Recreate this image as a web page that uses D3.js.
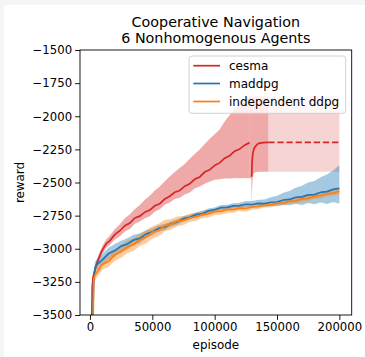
<!DOCTYPE html>
<html>
<head>
<meta charset="utf-8">
<script src="https://cdn.jsdelivr.net/npm/d3@7"></script>
<style>
  html, body { margin: 0; padding: 0; background: #f5f5f5; }
  svg { display: block; }
  text { font-family: "DejaVu Sans", sans-serif; fill: #000; }
</style>
</head>
<body>
<svg id="chart" width="365" height="357"></svg>
<script>
// ---------- DATA ----------
const titleLines = ["Cooperative Navigation", "6 Nonhomogenous Agents"];
const seriesNames = ["cesma", "maddpg", "independent ddpg"];
const xTicks = [0, 50000, 100000, 150000, 200000];
const yTicks = [-1500, -1750, -2000, -2250, -2500, -2750, -3000, -3250, -3500];

// cesma, first run
const cesmaX = [1000, 1500, 1800, 2500, 4000, 6000, 8000, 10000, 13000, 16000, 20000, 24000, 28000, 32000, 36000, 40000, 44000, 48000, 52000, 56000, 60000, 64000, 68000, 72000, 76000, 80000, 84000, 88000, 92000, 96000, 100000, 104000, 108000, 112000, 116000, 120000, 124000, 128000];
const cesmaMean = [-3900, -3500, -3290, -3215, -3158, -3098, -3048, -3008, -2962, -2938, -2892, -2864, -2826, -2806, -2768, -2754, -2724, -2708, -2676, -2660, -2624, -2604, -2574, -2560, -2528, -2510, -2476, -2458, -2421, -2404, -2371, -2352, -2316, -2298, -2264, -2248, -2218, -2199];
const cesmaUpper = [-3850, -3450, -3260, -3190, -3130, -3070, -3018, -2978, -2930, -2900, -2850, -2815, -2770, -2740, -2700, -2670, -2630, -2600, -2560, -2530, -2490, -2455, -2420, -2390, -2360, -2320, -2285, -2250, -2210, -2170, -2135, -2100, -2040, -1990, -1940, -1900, -1870, -1850];
const cesmaLower = [-3950, -3550, -3320, -3240, -3185, -3125, -3078, -3040, -2995, -2970, -2930, -2905, -2870, -2850, -2812, -2795, -2770, -2755, -2720, -2702, -2668, -2650, -2625, -2615, -2590, -2575, -2545, -2530, -2510, -2495, -2480, -2475, -2470, -2470, -2466, -2468, -2466, -2468];

// cesma, restarted run
const cesma2X = [129700, 130000, 130500, 131000, 132000, 134000, 136000, 139000, 143000];
const cesma2Mean = [-2456, -2350, -2290, -2262, -2235, -2212, -2203, -2199, -2197];
const cesma2BandX = [128000, 129400, 129700, 130000, 130500, 131000, 132000, 134000, 136000, 139000, 143000];
const cesma2Upper = [-1850, -1850, -1850, -1850, -1850, -1850, -1850, -1850, -1850, -1850, -1850];
const cesma2Lower = [-2468, -2468, -2670, -2560, -2470, -2440, -2425, -2420, -2418, -2418, -2418];

// cesma, extended (dashed)
const cesma3X = [143000, 200000];
const cesma3Mean = [-2197, -2197];
const cesma3Upper = [-1850, -1850];
const cesma3Lower = [-2418, -2418];

// maddpg & independent ddpg
const episodes = [2000, 2500, 3000, 4000, 5000, 10000, 15000, 20000, 25000, 30000, 35000, 40000, 45000, 50000, 55000, 60000, 65000, 70000, 75000, 80000, 85000, 90000, 95000, 100000, 105000, 110000, 115000, 120000, 125000, 130000, 135000, 140000, 145000, 150000, 155000, 160000, 165000, 170000, 175000, 180000, 185000, 190000, 195000, 200000];
const maddpgMean = [-3700, -3420, -3240, -3150, -3125, -3082, -3036, -3014, -2980, -2964, -2934, -2922, -2888, -2873, -2846, -2836, -2812, -2798, -2772, -2763, -2742, -2736, -2714, -2706, -2690, -2688, -2676, -2675, -2664, -2666, -2657, -2660, -2649, -2647, -2632, -2628, -2612, -2608, -2594, -2591, -2574, -2569, -2552, -2545];
const maddpgUpper = [-3550, -3300, -3180, -3100, -3085, -3040, -2990, -2965, -2940, -2920, -2895, -2885, -2860, -2845, -2822, -2812, -2792, -2778, -2754, -2744, -2724, -2716, -2696, -2688, -2670, -2668, -2656, -2652, -2640, -2640, -2630, -2628, -2612, -2600, -2578, -2565, -2540, -2525, -2500, -2488, -2460, -2440, -2410, -2370];
const maddpgLower = [-3850, -3550, -3300, -3200, -3165, -3120, -3080, -3058, -3020, -3005, -2972, -2958, -2918, -2900, -2870, -2860, -2834, -2818, -2792, -2782, -2760, -2756, -2732, -2724, -2710, -2708, -2696, -2697, -2686, -2690, -2680, -2684, -2675, -2680, -2668, -2672, -2660, -2670, -2655, -2664, -2650, -2662, -2648, -2660];
const ddpgMean = [-3800, -3550, -3230, -3200, -3185, -3118, -3094, -3046, -3022, -2986, -2968, -2932, -2911, -2876, -2860, -2826, -2815, -2792, -2786, -2766, -2760, -2742, -2737, -2720, -2718, -2704, -2705, -2694, -2696, -2685, -2683, -2670, -2670, -2656, -2655, -2641, -2639, -2624, -2620, -2604, -2600, -2585, -2580, -2566];
const ddpgUpper = [-3700, -3450, -3180, -3160, -3150, -3080, -3055, -3005, -2978, -2940, -2920, -2885, -2862, -2830, -2812, -2782, -2775, -2756, -2752, -2735, -2730, -2714, -2710, -2694, -2692, -2680, -2682, -2672, -2675, -2665, -2664, -2652, -2652, -2638, -2637, -2622, -2620, -2605, -2600, -2585, -2580, -2566, -2560, -2545];
const ddpgLower = [-3900, -3650, -3280, -3240, -3222, -3158, -3135, -3090, -3068, -3032, -3016, -2980, -2960, -2922, -2906, -2868, -2855, -2830, -2820, -2798, -2790, -2770, -2764, -2746, -2744, -2728, -2728, -2716, -2718, -2705, -2702, -2688, -2688, -2674, -2673, -2660, -2658, -2643, -2640, -2624, -2620, -2605, -2600, -2588];

const colors = ["#d62728", "#1f77b4", "#ff7f0e"];

// ---------- LAYOUT ----------
const svg = d3.select("#chart");
svg.append("rect").attr("x", 4).attr("y", 5).attr("width", 361).attr("height", 352).attr("fill", "#fff");

const L = 80, R = 351.7, T = 50, B = 315;
const x = d3.scaleLinear().domain([-8000, 209900]).range([L, R]);
const y = d3.scaleLinear().domain([-3500, -1500]).range([B, T]);

svg.append("clipPath").attr("id", "clip").append("rect")
  .attr("x", L).attr("y", T).attr("width", R - L).attr("height", B - T);
const plot = svg.append("g").attr("clip-path", "url(#clip)");

function zip(xs, a) { return xs.map((v, i) => [v, a[i]]); }
function band(xs, lo, hi) { return xs.map((v, i) => ({ x: v, lo: lo[i], hi: hi[i] })); }
const area = d3.area().x(d => x(d.x)).y0(d => y(d.lo)).y1(d => y(d.hi));
const line = d3.line().x(d => x(d[0])).y(d => y(d[1]));

// bands
plot.append("path").attr("d", area(band(cesmaX, cesmaLower, cesmaUpper))).attr("fill", colors[0]).attr("fill-opacity", 0.4);
plot.append("path").attr("d", area(band(cesma2BandX, cesma2Lower, cesma2Upper))).attr("fill", colors[0]).attr("fill-opacity", 0.4);
plot.append("path").attr("d", area(band(cesma3X, cesma3Lower, cesma3Upper))).attr("fill", colors[0]).attr("fill-opacity", 0.2);
plot.append("path").attr("d", area(band(episodes, maddpgLower, maddpgUpper))).attr("fill", colors[1]).attr("fill-opacity", 0.4);
plot.append("path").attr("d", area(band(episodes, ddpgLower, ddpgUpper))).attr("fill", colors[2]).attr("fill-opacity", 0.4);

// lines
const lw = 1.7;
plot.append("path").attr("d", line(zip(cesmaX, cesmaMean))).attr("fill", "none").attr("stroke", colors[0]).attr("stroke-width", lw);
plot.append("path").attr("d", line(zip(cesma2X, cesma2Mean))).attr("fill", "none").attr("stroke", colors[0]).attr("stroke-width", lw);
plot.append("path").attr("d", line(zip(cesma3X, cesma3Mean))).attr("fill", "none").attr("stroke", colors[0]).attr("stroke-width", lw).attr("stroke-dasharray", "6.3,2.8");
plot.append("path").attr("d", line(zip(episodes, maddpgMean))).attr("fill", "none").attr("stroke", colors[1]).attr("stroke-width", lw);
plot.append("path").attr("d", line(zip(episodes, ddpgMean))).attr("fill", "none").attr("stroke", colors[2]).attr("stroke-width", lw);

// axes
const fs = 11.7;
const xAxis = svg.append("g").attr("transform", `translate(0,${B})`)
  .call(d3.axisBottom(x).tickValues(xTicks).tickFormat(d3.format("d")).tickSize(4.9).tickPadding(3));
const yAxis = svg.append("g").attr("transform", `translate(${L},0)`)
  .call(d3.axisLeft(y).tickValues(yTicks).tickFormat(d => "\u2212" + Math.abs(d)).tickSize(4.9).tickPadding(3));
[xAxis, yAxis].forEach(g => {
  g.select(".domain").remove();
  g.selectAll(".tick line").attr("stroke", "#000").attr("stroke-width", 0.9);
  g.selectAll(".tick text").attr("font-size", fs).attr("font-family", "DejaVu Sans").attr("fill", "#000");
});
// spines
svg.append("rect").attr("x", L).attr("y", T).attr("width", R - L).attr("height", B - T)
  .attr("fill", "none").attr("stroke", "#000").attr("stroke-width", 0.9);

// labels
svg.append("text").attr("x", (L + R) / 2).attr("y", 349).attr("text-anchor", "middle").attr("font-size", 11.9).text("episode");
svg.append("text").attr("transform", `translate(23.5,${(T + B) / 2}) rotate(-90)`).attr("text-anchor", "middle").attr("font-size", 11.9).text("reward");
titleLines.forEach((t, i) => {
  svg.append("text").attr("x", (L + R) / 2).attr("y", 26.7 + i * 16).attr("text-anchor", "middle").attr("font-size", 14.3).text(t);
});

// legend
const lg = svg.append("g");
lg.append("rect").attr("x", 189).attr("y", 56).attr("width", 156.7).attr("height", 57.3).attr("rx", 3)
  .attr("fill", "#fff").attr("fill-opacity", 0.8).attr("stroke", "#ccc").attr("stroke-width", 0.9);
const ly = [65.7, 83.5, 101.5];
seriesNames.forEach((n, i) => {
  lg.append("line").attr("x1", 193.3).attr("x2", 220).attr("y1", ly[i]).attr("y2", ly[i]).attr("stroke", colors[i]).attr("stroke-width", lw);
  lg.append("text").attr("x", 229).attr("y", ly[i]).attr("dy", "0.35em").attr("font-size", 12).text(n);
});
</script>
</body>
</html>
